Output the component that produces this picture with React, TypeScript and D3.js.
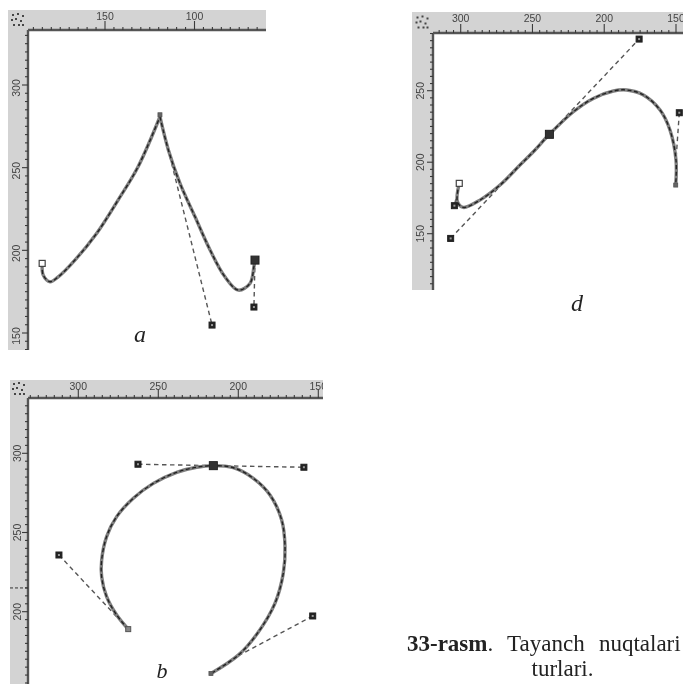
import React from "react";
import * as d3 from "d3";

type P = [number, number];

// Panel a — values in ruler units
const curveALeft: P[] = [[185.1,192.1],[184.5,185],[180.7,181],[176.3,183.8],[166.8,194.1],[154.5,210.5],[142.7,230.4],[131.6,250.4],[119.3,280.8]];
const curveARight: P[] = [[119.3,280.8],[114.6,260.7],[108.1,240.5],[99.7,220.3],[91.3,200.2],[83,184],[75.5,175.9],[69,180],[66.8,190.1],[66.2,194.1]];
const handlesA: P[][] = [[[119.3,280.8],[90.2,154.8]],[[66.2,194.1],[66.8,165.7]]];
const nodesA: { p: P; kind: string }[] = [
  { p: [185.1,192.1], kind: "open" },
  { p: [119.3,282], kind: "small" },
  { p: [66.2,194.1], kind: "big" },
  { p: [90.2,154.8], kind: "handle" },
  { p: [66.8,165.7], kind: "handle" },
];

// Panel d
const curveD: P[] = [[301,185.2],[302.3,172.4],[298.2,168.4],[286.6,173.5],[272.6,184],[258.7,198],[249.4,207.3],[238.2,219.5],[221.5,235.3],[207.6,244.6],[193.6,249.8],[184.4,250.5],[172.7,247],[161.1,236.5],[154.2,222.5],[150,201.5],[150.2,184]];
const handlesD: P[][] = [[[301,185.2],[304.4,169.6]],[[307,146.7],[175.7,286.1]],[[147.7,234.6],[150,201.5]]];
const nodesD: { p: P; kind: string }[] = [
  { p: [301,185.2], kind: "open" },
  { p: [304.4,169.6], kind: "handle" },
  { p: [307,146.7], kind: "handle" },
  { p: [175.7,286.1], kind: "handle" },
  { p: [238.2,219.5], kind: "big" },
  { p: [147.7,234.6], kind: "handle" },
  { p: [150.2,184], kind: "small" },
];

// Panel b
const curveB: P[] = [[268.8,189],[276,197.9],[282.3,209.5],[285.4,222.1],[285.4,232.6],[282.3,247.4],[276,260],[265.6,271.6],[253.1,281],[238.5,288],[226,291.2],[215.6,292.2],[203.1,290.9],[190.6,284.2],[180.2,273.7],[172.9,257.9],[170.8,241.1],[171.9,224.2],[177.1,205.3],[188.1,186.3],[200,172.6],[217.1,161]];
const handlesB: P[][] = [[[312.1,235.8],[268.8,189]],[[262.7,293.1],[215.6,292.2],[159,291.2]],[[153.5,197.3],[201,171.6]]];
const nodesB: { p: P; kind: string }[] = [
  { p: [268.8,189], kind: "grey" },
  { p: [312.1,235.8], kind: "handle" },
  { p: [262.7,293.1], kind: "handle" },
  { p: [159,291.2], kind: "handle" },
  { p: [215.6,292.2], kind: "big" },
  { p: [153.5,197.3], kind: "handle" },
  { p: [217.1,161], kind: "small" },
];

const xLabelsA = [150, 100];
const yLabelsA = [300, 250, 200, 150];
const xLabelsD = [300, 250, 200, 150];
const yLabelsD = [250, 200, 150];
const xLabelsB = [300, 250, 200, 150];
const yLabelsB = [300, 250, 200];
const captionBold = "33-rasm";
const captionRest = ". Tayanch nuqtalari";
const captionLine2 = "turlari.";

const BAND = "#d3d3d3";
const DARK = "#3a3a3a";

function Marker({ x, y, kind }: { x: number; y: number; kind: string }) {
  const cfg: Record<string, { s: number; fill: string; stroke: string; sw: number }> = {
    handle: { s: 6, fill: "#222", stroke: "#222", sw: 1 },
    open: { s: 6, fill: "#fff", stroke: "#444", sw: 1.2 },
    small: { s: 4, fill: "#666", stroke: "#555", sw: 0.8 },
    big: { s: 8, fill: "#333", stroke: "#222", sw: 1 },
    grey: { s: 5, fill: "#888", stroke: "#555", sw: 1 },
  };
  const c = cfg[kind];
  return (
    <g>
      <rect x={x - c.s / 2} y={y - c.s / 2} width={c.s} height={c.s} fill={c.fill} stroke={c.stroke} strokeWidth={c.sw} />
      {kind === "handle" && <rect x={x - 1} y={y - 1} width={2} height={2} fill="#999" />}
    </g>
  );
}

interface PanelProps {
  id: string;
  box: { l: number; t: number; r: number; b: number; band: number };
  xs: d3.ScaleLinear<number, number>;
  ys: d3.ScaleLinear<number, number>;
  xLabels: number[];
  yLabels: number[];
  curves: P[][];
  handles: P[][];
  nodes: { p: P; kind: string }[];
  guide?: number;
  labelDy?: number;
}

function Panel({ id, box, xs, ys, xLabels, yLabels, curves, handles, nodes, guide, labelDy = 0 }: PanelProps) {
  const { l, t, r, b, band } = box;
  const il = l + band;
  const it = t + band;
  const xMin = xs.invert(r);
  const xMax = xs.invert(il);
  const yMin = ys.invert(b);
  const yMax = ys.invert(it);
  const xt = d3.range(Math.ceil(xMin / 5) * 5, xMax + 0.01, 5);
  const yt = d3.range(Math.ceil(yMin / 5) * 5, yMax + 0.01, 5);
  const line = d3.line<P>().x((d) => xs(d[0])).y((d) => ys(d[1])).curve(d3.curveCatmullRom.alpha(0.5));
  const hline = d3.line<P>().x((d) => xs(d[0])).y((d) => ys(d[1]));
  const iconCells: P[] = [[-5,-5],[0,-6],[5,-4],[-6,0],[-2,-1],[3,1],[-4,5],[1,5],[5,5]];
  return (
    <g clipPath={`url(#${id})`}>
      <clipPath id={id}><rect x={l} y={t} width={r - l} height={b - t} /></clipPath>
      <rect x={l} y={t} width={r - l} height={b - t} fill={BAND} />
      <rect x={il} y={it} width={r - il} height={b - it} fill="#fff" />
      <line x1={il} x2={r} y1={it} y2={it} stroke="#555" strokeWidth={2.4} />
      <line x1={il} x2={il} y1={it} y2={b} stroke="#555" strokeWidth={2.4} />
      {iconCells.map((c, i) => (
        <rect key={i} x={l + band / 2 + c[0] - 1} y={t + band / 2 + c[1] - 1} width={2} height={2} fill="#444" />
      ))}
      {xt.map((v) => (
        <line key={v} x1={xs(v)} x2={xs(v)} y1={it} y2={it - (v % 50 === 0 ? 9 : 3)} stroke={DARK} strokeWidth={1.1} />
      ))}
      {yt.map((v) => (
        <line key={v} y1={ys(v)} y2={ys(v)} x1={il} x2={il - (v % 50 === 0 ? 6 : 3)} stroke={DARK} strokeWidth={1.1} />
      ))}
      {xLabels.map((v) => (
        <text key={v} x={xs(v)} y={t + 10} textAnchor="middle" fontFamily="'Liberation Sans', sans-serif" fontSize={10.5} fill="#444">{v}</text>
      ))}
      {yLabels.map((v) => (
        <text key={v} transform={`translate(${l + band / 2 + 1.5},${ys(v) + labelDy}) rotate(-90)`} textAnchor="middle" fontFamily="'Liberation Sans', sans-serif" fontSize={10.5} fill="#444">{v}</text>
      ))}
      {guide !== undefined && (
        <line x1={l} x2={il} y1={ys(guide)} y2={ys(guide)} stroke="#333" strokeWidth={1} strokeDasharray="3 2" />
      )}
      {handles.map((h, i) => (
        <path key={i} d={hline(h) ?? ""} fill="none" stroke="#555" strokeWidth={1.4} strokeDasharray="4.5 3.5" />
      ))}
      {curves.map((c, i) => (
        <g key={i}>
          <path d={line(c) ?? ""} fill="none" stroke="#808080" strokeWidth={3.4} strokeLinecap="round" />
          <path d={line(c) ?? ""} fill="none" stroke="#222" strokeWidth={1.4} strokeDasharray="4 2.5" />
        </g>
      ))}
      {nodes.map((n, i) => (
        <Marker key={i} x={xs(n.p[0])} y={ys(n.p[1])} kind={n.kind} />
      ))}
    </g>
  );
}

export default function App() {
  const xA = d3.scaleLinear().domain([150, 100]).range([105, 194.5]);
  const yA = d3.scaleLinear().domain([300, 150]).range([85, 333]);
  const xD = d3.scaleLinear().domain([300, 150]).range([460.7, 676]);
  const yD = d3.scaleLinear().domain([250, 150]).range([90.7, 233.7]);
  const xB = d3.scaleLinear().domain([300, 150]).range([78.3, 318.3]);
  const yB = d3.scaleLinear().domain([300, 200]).range([453.3, 611.7]);
  const serif = "'Liberation Serif', serif";
  return (
    <svg width={683} height={684} viewBox="0 0 683 684" style={{ position: "absolute", left: 0, top: 0, background: "#fff" }}>
      <defs>
        <filter id="soft" x="0" y="0" width="100%" height="100%">
          <feGaussianBlur stdDeviation="0.45" />
        </filter>
      </defs>
      <g filter="url(#soft)">
        <Panel id="pa" box={{ l: 8, t: 10, r: 266, b: 350, band: 20 }} xs={xA} ys={yA} xLabels={xLabelsA} yLabels={yLabelsA}
          curves={[curveALeft, curveARight]} handles={handlesA} nodes={nodesA} labelDy={3} />
        <Panel id="pd" box={{ l: 412, t: 12, r: 683, b: 290, band: 21 }} xs={xD} ys={yD} xLabels={xLabelsD} yLabels={yLabelsD}
          curves={[curveD]} handles={handlesD} nodes={nodesD} />
        <Panel id="pb" box={{ l: 10, t: 380, r: 323, b: 684, band: 18 }} xs={xB} ys={yB} xLabels={xLabelsB} yLabels={yLabelsB}
          curves={[curveB]} handles={handlesB} nodes={nodesB} guide={215} />
      </g>
      <text x={140} y={342} textAnchor="middle" fontFamily={serif} fontStyle="italic" fontSize={24} fill="#222">a</text>
      <text x={577} y={311} textAnchor="middle" fontFamily={serif} fontStyle="italic" fontSize={24} fill="#222">d</text>
      <text x={162} y={678} textAnchor="middle" fontFamily={serif} fontStyle="italic" fontSize={22} fill="#222">b</text>
      <text x={407} y={651} fontFamily={serif} fontSize={23} fill="#222" wordSpacing={8.5}>
        <tspan fontWeight="bold">{captionBold}</tspan>{captionRest}
      </text>
      <text x={562.5} y={676} textAnchor="middle" fontFamily={serif} fontSize={23} fill="#222">{captionLine2}</text>
    </svg>
  );
}
